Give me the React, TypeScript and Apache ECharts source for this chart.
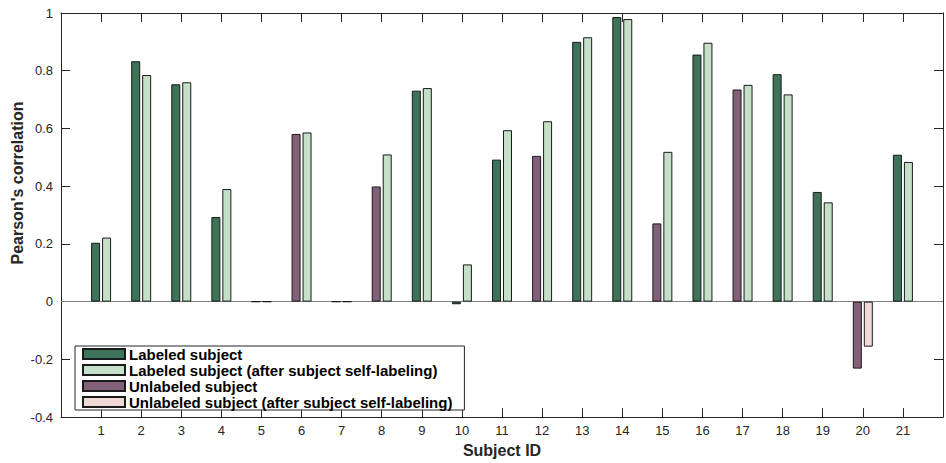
import React, { useEffect, useRef } from "react";
import * as echarts from "echarts";

// Subject IDs along the x axis (padded with empty slots at 0 and 22)
const subjects = Array.from({ length: 21 }, (_, i) => String(i + 1));

// Pearson's correlation per subject, before and after self-labeling
const beforeValues = [
  0.204, 0.833, 0.753, 0.293, 0, 0.581, 0, 0.399, 0.731, -0.009, 0.492,
  0.505, 0.9, 0.986, 0.271, 0.856, 0.735, 0.788, 0.38, -0.232, 0.509,
];
const afterValues = [
  0.222, 0.785, 0.76, 0.39, 0, 0.586, 0, 0.51, 0.74, 0.129, 0.594, 0.625,
  0.916, 0.979, 0.519, 0.897, 0.751, 0.718, 0.344, -0.156, 0.484,
];

// Subjects drawn as unlabeled (first bar) and with unlabeled self-labeling colour (second bar)
const unlabeledFirst = [6, 8, 12, 15, 17, 20];
const unlabeledSecond = [20];

const seriesNames = [
  "Labeled subject",
  "Labeled subject (after subject self-labeling)",
  "Unlabeled subject",
  "Unlabeled subject (after subject self-labeling)",
];
const colors = ["#3d7358", "#c4e0c8", "#836079", "#efd9d7"];

const yTicks = { min: -0.4, max: 1, interval: 0.2 };

const axisColor = "#262626";

function pad(vals: (number | null)[]) {
  return [null, ...vals, null];
}

export default function App() {
  const ref = useRef<HTMLDivElement>(null);

  useEffect(() => {
    if (!ref.current) return;
    const chart = echarts.init(ref.current, undefined, { renderer: "svg" });

    const categories = ["", ...subjects, ""];
    const pick = (vals: number[], list: number[], inList: boolean) =>
      pad(vals.map((v, i) => (list.includes(i + 1) === inList ? v : null)));

    const seriesData = [
      pick(beforeValues, unlabeledFirst, false),
      pick(afterValues, unlabeledSecond, false),
      pick(beforeValues, unlabeledFirst, true),
      pick(afterValues, unlabeledSecond, true),
    ];
    const stacks = ["first", "second", "first", "second"];

    const tickStyle = {
      inside: true,
      length: 9,
      lineStyle: { color: axisColor, width: 1 },
    };
    const showTick = (index: number) =>
      index !== 0 && index !== categories.length - 1;

    chart.setOption({
      animation: false,
      backgroundColor: "#ffffff",
      grid: { left: 61, top: 13, width: 892, height: 411, containLabel: false },
      legend: {
        orient: "vertical",
        left: 75,
        top: 346,
        padding: [0, 12, 0, 7],
        itemWidth: 42,
        itemHeight: 10,
        itemGap: 0,
        icon: "rect",
        backgroundColor: "#ffffff",
        borderColor: axisColor,
        borderWidth: 1,
        selectedMode: false,
        data: seriesNames,
        textStyle: {
          fontFamily: "Liberation Sans, Arial, sans-serif",
          fontWeight: "bold",
          fontSize: 15,
          color: "#000",
          lineHeight: 16,
          padding: [0, 0, 0, -1],
        },
      },
      xAxis: [
        {
          type: "category",
          data: categories,
          boundaryGap: false,
          position: "bottom",
          axisLine: { onZero: false, lineStyle: { color: axisColor, width: 1 } },
          axisTick: { ...tickStyle, interval: showTick },
          axisLabel: {
            interval: 0,
            margin: 7,
            color: axisColor,
            fontSize: 13,
            fontFamily: "Liberation Sans, Arial, sans-serif",
          },
          splitLine: { show: false },
          name: "Subject ID",
          nameLocation: "middle",
          nameGap: 24,
          nameTextStyle: {
            fontFamily: "Liberation Sans, Arial, sans-serif",
            fontWeight: "bold",
            fontSize: 16,
            color: axisColor,
          },
        },
        {
          type: "category",
          data: categories,
          boundaryGap: false,
          position: "top",
          axisLine: { onZero: false, lineStyle: { color: axisColor, width: 1 } },
          axisTick: { ...tickStyle, interval: showTick },
          axisLabel: { show: false },
          splitLine: { show: false },
        },
      ],
      yAxis: [
        {
          type: "value",
          ...yTicks,
          position: "left",
          axisLine: { show: true, onZero: false, lineStyle: { color: axisColor, width: 1 } },
          axisTick: { show: true, ...tickStyle },
          axisLabel: {
            margin: 8,
            color: axisColor,
            fontSize: 13,
            fontFamily: "Liberation Sans, Arial, sans-serif",
          },
          splitLine: { show: false },
        },
        {
          type: "value",
          ...yTicks,
          position: "right",
          axisLine: { show: true, onZero: false, lineStyle: { color: axisColor, width: 1 } },
          axisTick: { show: true, ...tickStyle },
          axisLabel: { show: false },
          splitLine: { show: false },
        },
      ],
      graphic: [
        {
          type: "text",
          x: 17,
          y: 183,
          rotation: Math.PI / 2,
          style: {
            text: "Pearson's correlation",
            fontFamily: "Liberation Sans, Arial, sans-serif",
            fontWeight: "bold",
            fontSize: 16,
            fill: axisColor,
            align: "center",
            verticalAlign: "middle",
          },
        },
      ],
      series: seriesNames.map((name, i) => ({
        name,
        type: "bar",
        stack: stacks[i],
        xAxisIndex: 0,
        yAxisIndex: 0,
        data: seriesData[i],
        barWidth: 9,
        barGap: "22%",
        itemStyle: { color: colors[i], borderColor: "#1a1a1a", borderWidth: 1 },
        emphasis: { disabled: true },
        ...(i === 0
          ? {
              markLine: {
                silent: true,
                symbol: "none",
                label: { show: false },
                lineStyle: { color: "#808080", width: 1, type: "solid" },
                data: [{ yAxis: 0 }],
                z: 1,
              },
            }
          : {}),
      })),
    });

    return () => chart.dispose();
  }, []);

  return (
    <div
      ref={ref}
      style={{ position: "absolute", left: 0, top: 0, width: 946, height: 463 }}
    />
  );
}
